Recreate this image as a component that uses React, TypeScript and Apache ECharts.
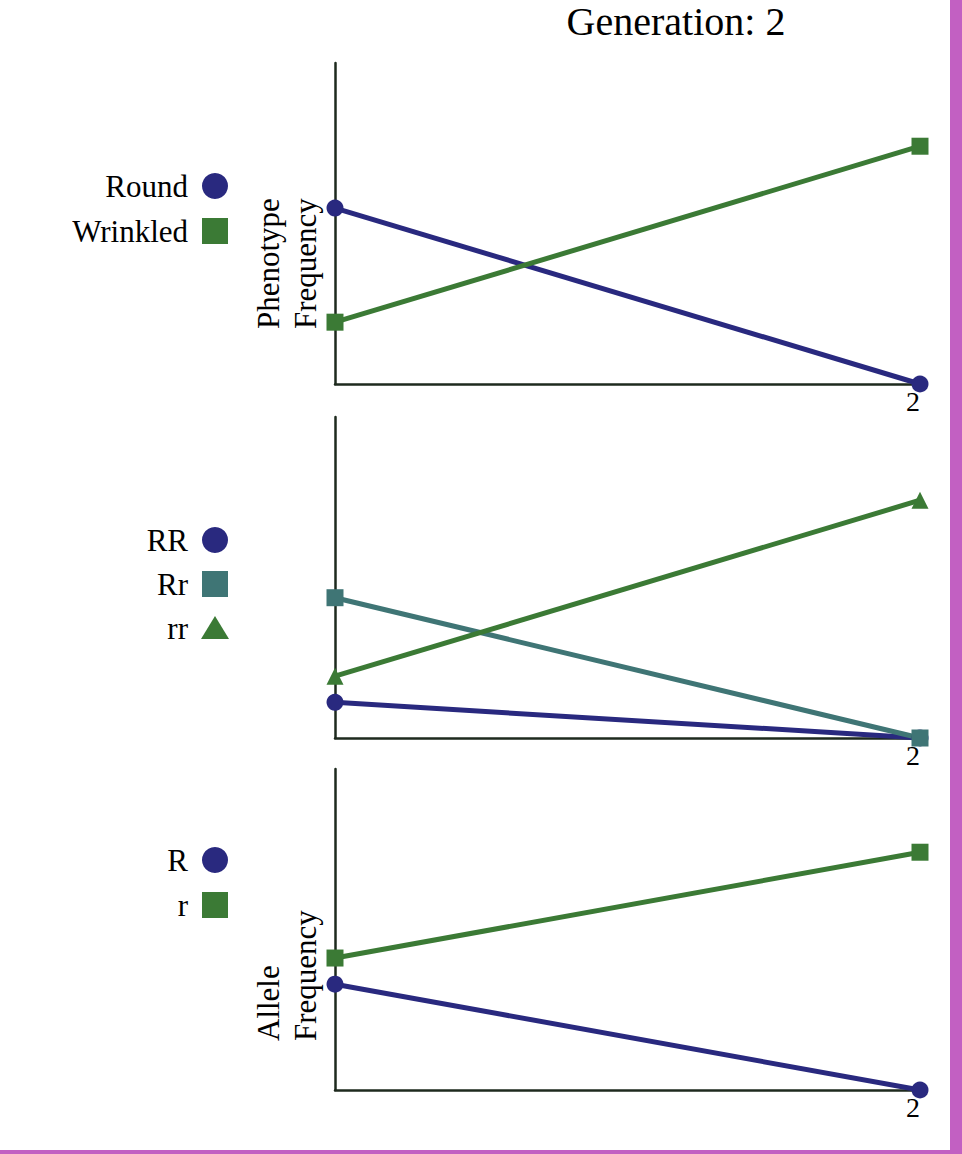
import React, { useEffect, useRef } from "react";
import * as echarts from "echarts";

const generations = [1, 2];
const tickLabels = ["", "2"];

const phenoNames = ["Round", "Wrinkled"];
const roundFreq = [0.74, 0];
const wrinkledFreq = [0.26, 1];

const genoNames = ["RR", "Rr", "rr"];
const rrDomFreq = [0.15, 0];
const rrHetFreq = [0.59, 0];
const rrRecFreq = [0.26, 1];

const alleleNames = ["R", "r"];
const bigRFreq = [0.445, 0];
const smallRFreq = [0.555, 1];

const title = "Generation: 2";

const NAVY = "#29297f";
const GREEN = "#3b7a35";
const TEAL = "#3f7575";
const AXIS = "#1e2a1e";
const SERIF = "Liberation Serif";

const pair = (vals: number[]) => generations.map((g, i) => [g, vals[i]]);

export default function App() {
  const ref = useRef<HTMLDivElement>(null);
  useEffect(() => {
    if (!ref.current) return;
    const chart = echarts.init(ref.current, undefined, { renderer: "svg" });
    const grids = [
      { left: 335, top: 63, width: 585, height: 321 },
      { left: 335, top: 417, width: 585, height: 321 },
      { left: 335, top: 769, width: 585, height: 321 },
    ];
    const xAxes = grids.map((_, i) => ({
      type: "value",
      gridIndex: i,
      min: 1,
      max: 2,
      interval: 1,
      axisLine: { show: true, lineStyle: { color: AXIS, width: 2.5 } },
      axisTick: { show: false },
      splitLine: { show: false },
      axisLabel: {
        showMinLabel: false,
        formatter: (v: number) => tickLabels[generations.indexOf(v)] ?? "",
        align: "right",
        margin: 3,
        fontFamily: SERIF,
        fontSize: 28,
        color: "#000",
      },
    }));
    const yAxes = grids.map((_, i) => ({
      type: "value",
      gridIndex: i,
      min: 0,
      max: 1.35,
      axisLine: { show: true, lineStyle: { color: AXIS, width: 2.5 } },
      axisTick: { show: false },
      splitLine: { show: false },
      axisLabel: { show: false },
    }));
    const mk = (name: string, vals: number[], idx: number, color: string, symbol: string) => ({
      type: "line",
      name,
      xAxisIndex: idx,
      yAxisIndex: idx,
      data: pair(vals),
      symbol,
      symbolSize: 17,
      clip: false,
      lineStyle: { color, width: 5 },
      itemStyle: { color },
    });
    const series = [
      mk(phenoNames[0], roundFreq, 0, NAVY, "circle"),
      mk(phenoNames[1], wrinkledFreq, 0, GREEN, "rect"),
      mk(genoNames[0], rrDomFreq, 1, NAVY, "circle"),
      mk(genoNames[1], rrHetFreq, 1, TEAL, "rect"),
      mk(genoNames[2], rrRecFreq, 1, GREEN, "triangle"),
      mk(alleleNames[0], bigRFreq, 2, NAVY, "circle"),
      mk(alleleNames[1], smallRFreq, 2, GREEN, "rect"),
    ];

    const legendText = (text: string, y: number) => ({
      type: "text",
      x: 188,
      y,
      style: { text, fontFamily: SERIF, fontSize: 31, fill: "#000", align: "right", verticalAlign: "middle" },
    });
    const legCircle = (y: number) => ({ type: "circle", shape: { cx: 215, cy: y, r: 13 }, style: { fill: NAVY } });
    const legRect = (y: number, color: string) => ({
      type: "rect",
      shape: { x: 202, y: y - 13, width: 26, height: 26 },
      style: { fill: color },
    });
    const legTri = (y: number) => ({
      type: "polygon",
      shape: { points: [[201, y + 11], [229, y + 11], [215, y - 12]] },
      style: { fill: GREEN },
    });
    const yName = (text: string, x: number, y: number) => ({
      type: "text",
      x,
      y,
      rotation: Math.PI / 2,
      style: {
        text,
        fontFamily: SERIF,
        fontSize: 31,
        lineHeight: 37,
        fill: "#000",
        align: "left",
        verticalAlign: "middle",
      },
    });

    const graphic = [
      {
        type: "text",
        x: 676,
        y: 21,
        style: { text: title, fontFamily: SERIF, fontSize: 40, fill: "#000", align: "center", verticalAlign: "middle" },
      },
      legendText(phenoNames[0], 186),
      legCircle(186),
      legendText(phenoNames[1], 231),
      legRect(231, GREEN),
      legendText(genoNames[0], 540),
      legCircle(540),
      legendText(genoNames[1], 584),
      legRect(584, TEAL),
      legendText(genoNames[2], 628),
      legTri(628),
      legendText(alleleNames[0], 860),
      legCircle(860),
      legendText(alleleNames[1], 905),
      legRect(905, GREEN),
      yName("Phenotype\nFrequency", 287, 329),
      yName("Allele\nFrequency", 287, 1041),
      { type: "rect", shape: { x: 950, y: 0, width: 12, height: 1154 }, style: { fill: "#c260c2" } },
      { type: "rect", shape: { x: 0, y: 1150, width: 962, height: 4 }, style: { fill: "#c260c2" } },
    ];

    chart.setOption({
      animation: false,
      backgroundColor: "#ffffff",
      grid: grids,
      xAxis: xAxes,
      yAxis: yAxes,
      series,
      graphic,
    });
    return () => chart.dispose();
  }, []);
  return <div ref={ref} style={{ position: "absolute", left: 0, top: 0, width: 962, height: 1154 }} />;
}
